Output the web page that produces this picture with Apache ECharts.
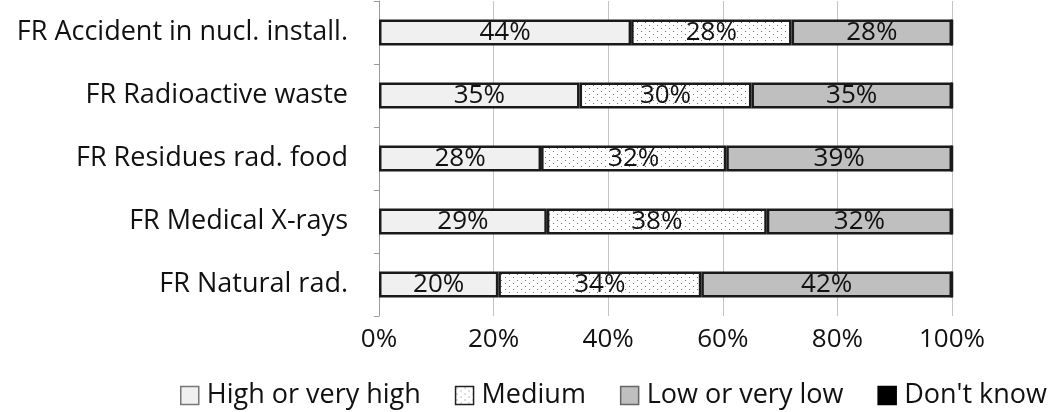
<!DOCTYPE html>
<html><head><meta charset="utf-8">
<script src="https://cdn.jsdelivr.net/npm/echarts@6/dist/echarts.min.js"></script>
<style>html,body{margin:0;padding:0;background:#fff}#c{width:1055px;height:412px}</style>
</head><body><div id="c"></div>
<script>
const categories = ['FR Accident in nucl. install.', 'FR Radioactive waste', 'FR Residues rad. food', 'FR Medical X-rays', 'FR Natural rad.'];
const seriesNames = ['High or very high', 'Medium', 'Low or very low', "Don't know"];
const highVals = [44, 35, 28, 29, 20];
const mediumVals = [28, 30, 32, 38, 34];
const lowVals = [28, 35, 39, 32, 42];
const dontKnowVals = [0, 0, 0, 0, 0];
const xTicks = [0, 20, 40, 60, 80, 100];

const raw = [highVals, mediumVals, lowVals, dontKnowVals];
const totals = categories.map((_, i) => raw.reduce((s, a) => s + a[i], 0));
const share = arr => arr.map((v, i) => v / totals[i] * 100);

const pc = document.createElement('canvas');
pc.width = 8; pc.height = 6;
const px = pc.getContext('2d');
px.fillStyle = '#ffffff'; px.fillRect(0, 0, 8, 6);
px.fillStyle = '#777777';
px.fillRect(1, 1, 1, 1); px.fillRect(5, 4, 1, 1);
const dotPattern = {image: pc, repeat: 'repeat'};

const fills = ['#f0f0f0', dotPattern, '#bfbfbf', '#000000'];
const legendFills = ['#f0f0f0', dotPattern, '#bfbfbf', '#000000'];
const legendBorders = ['#777', '#222', '#666', '#000'];
const font = 'Open Sans';
const textColor = '#111';

const chart = echarts.init(document.getElementById('c'), null, {renderer: 'canvas'});
chart.setOption({
  animation: false,
  grid: {left: 379, right: 103, top: 1, bottom: 96, containLabel: false},
  legend: {
    top: 377, left: 175,
    itemWidth: 18, itemHeight: 18, itemGap: 34,
    icon: 'rect',
    textStyle: {fontFamily: font, fontSize: 27, color: textColor, padding: [0, 0, 0, 3]},
    data: seriesNames.map((n, k) => ({name: n, itemStyle: {color: legendFills[k], borderColor: legendBorders[k], borderWidth: 1.5}}))
  },
  xAxis: {
    type: 'value', min: 0, max: 100, interval: 20,
    axisLine: {show: false}, axisTick: {show: false},
    splitLine: {lineStyle: {color: '#c4c4c4', width: 1}},
    axisLabel: {fontFamily: font, fontSize: 26, color: textColor, margin: 11,
      formatter: v => xTicks.includes(v) ? v + '%' : ''}
  },
  yAxis: {
    type: 'category', data: categories, inverse: true,
    axisLine: {lineStyle: {color: '#9a9a9a', width: 1}},
    axisTick: {show: true, length: 5, lineStyle: {color: '#9a9a9a'}},
    axisLabel: {fontFamily: font, fontSize: 27, color: textColor, margin: 31}
  },
  series: raw.map((arr, k) => ({
    name: seriesNames[k], type: 'bar', stack: 'all', barWidth: 26,
    data: share(arr),
    itemStyle: {color: fills[k], borderColor: '#1a1a1a', borderWidth: 2.5},
    label: {show: k < 3, position: 'inside', fontFamily: font, fontSize: 26, color: textColor,
      formatter: p => arr[p.dataIndex] + '%'}
  }))
});
</script></body></html>
